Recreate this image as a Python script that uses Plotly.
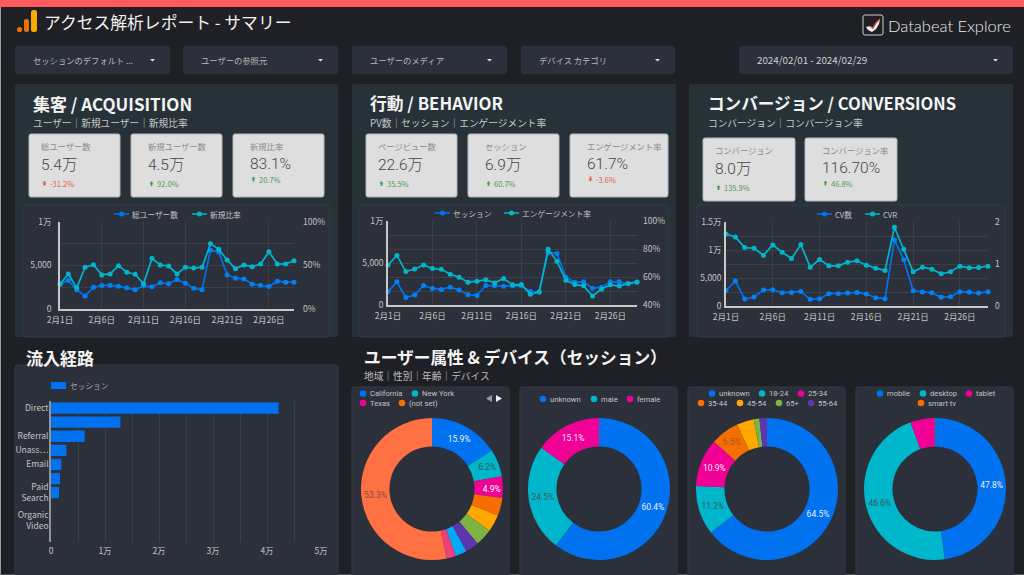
import plotly.graph_objects as go

W, H = 1024, 575
JP = "Noto Sans CJK JP"
NUM = "Roboto, Noto Sans CJK JP"

BG = "#1f2025"
PANEL = "#263238"
CARD = "#2c303a"
KPI = "#dedede"
GRID = "#3a3f49"
AXIS = "#c8c8c8"
TICK = "#c4c4c4"
BLUE = "#0072f0"
TEAL = "#00b6cb"

# daily series
days = [f"2月{d}日" for d in range(1, 30)]
day_ticks = ["2月1日", "2月6日", "2月11日", "2月16日", "2月21日", "2月26日"]

total_users = [2890, 3270, 2205, 1483, 2510, 2700, 2738, 2624, 2433, 2205, 2662, 2548, 3004, 2890, 3384,
               2966, 2395, 2205, 6768, 6540, 3916, 3536, 3460, 2852, 2738, 2586, 3194, 3080, 3080]
new_ratio = [28.5, 40.3, 24.3, 47.9, 51.0, 39.2, 40.3, 49.8, 42.2, 39.9, 28.9, 58.2, 50.6, 49.4, 40.3,
             47.9, 47.1, 47.9, 74.9, 68.8, 56.3, 46.4, 50.6, 48.7, 51.7, 65.8, 51.7, 51.7, 55.5]

sessions = [1614, 2756, 906, 1181, 2323, 1969, 1850, 2126, 1772, 1220, 1142, 2323, 2283, 2244, 2283,
            2283, 1614, 1535, 6260, 6142, 3307, 2717, 2756, 2008, 2087, 2756, 2756, 2520, 2717]
engagement = [68.6, 75.4, 63.9, 65.7, 68.6, 66.0, 65.5, 62.0, 59.8, 56.3, 57.0, 58.0, 55.8, 58.9, 54.4,
              54.6, 47.6, 49.2, 79.9, 71.2, 57.7, 54.6, 53.7, 46.4, 51.3, 54.4, 53.5, 55.4, 56.5]

cv_count = [2787, 4447, 1245, 1601, 2846, 2905, 2372, 2431, 2609, 1186, 1304, 2194, 2194, 2312, 2431,
            2134, 1482, 1304, 11798, 8241, 2727, 2490, 2372, 1542, 1660, 2549, 2490, 2312, 2549]
cvr = [1.715, 1.644, 1.391, 1.375, 1.209, 1.455, 1.281, 1.130, 1.462, 0.925, 1.107, 0.957, 0.957, 1.043, 1.075,
       0.972, 0.901, 0.846, 1.874, 1.352, 0.814, 0.925, 0.877, 0.767, 0.814, 0.949, 0.909, 0.917, 0.949]

# channels
channel_labels = ["Direct", "", "Referral", "Unass⋯", "Email", "", "Paid<br>Search", "", "Organic<br>Video", ""]
channel_sessions = [42150, 12855, 6242, 2843, 1916, 1669, 1483, 0, 0, 0]

# donuts
donut_colors = ["#0072f0", "#00b6cb", "#f10096", "#f66d00", "#ffa800", "#7cb342", "#5e35b1", "#03a9f4", "#ec407a", "#ff7043"]
region_values = [15.9, 6.2, 4.9, 4.1, 3.9, 3.9, 3.1, 2.6, 2.1, 53.3]
region_text = ["15.9%", "6.2%", "4.9%", "", "", "", "", "", "", "53.3%"]
region_legend = ["California", "New York", "Texas", "(not set)"]
gender_values = [60.4, 24.5, 15.1]
gender_text = ["60.4%", "24.5%", "15.1%"]
gender_legend = ["unknown", "male", "female"]
age_values = [64.5, 11.2, 10.9, 6.5, 3.9, 1.3, 1.7]
age_text = ["64.5%", "11.2%", "10.9%", "6.5%", "", "", ""]
age_legend = ["unknown", "18-24", "25-34", "35-44", "45-54", "65+", "55-64"]
device_values = [47.8, 46.6, 5.5, 0.1]
device_text = ["47.8%", "46.6%", "", ""]
device_legend = ["mobile", "desktop", "tablet", "smart tv"]

shapes = []
annotations = []
traces = []
layout_axes = {}


def px(x):
    return x / W


def py(y):
    return 1 - y / H


def box(x0, y0, x1, y1, fill, r=2, line=None):
    # rounded rectangle given in screen pixels
    xa, xb, ya, yb = px(x0), px(x1), py(y0), py(y1)
    rx, ry = r / W, r / H
    path = (f"M {xa + rx} {ya} L {xb - rx} {ya} Q {xb} {ya} {xb} {ya - ry} L {xb} {yb + ry} "
            f"Q {xb} {yb} {xb - rx} {yb} L {xa + rx} {yb} Q {xa} {yb} {xa} {yb + ry} "
            f"L {xa} {ya - ry} Q {xa} {ya} {xa + rx} {ya} Z")
    shapes.append(dict(type="path", xref="paper", yref="paper", path=path, fillcolor=fill,
                       line=dict(width=1 if line else 0, color=line or fill), layer="below"))


def poly(points, fill, layer="below", line=None, width=0):
    path = "M " + " L ".join(f"{px(x)} {py(y)}" for x, y in points) + (" Z" if fill else "")
    shapes.append(dict(type="path", xref="paper", yref="paper", path=path, fillcolor=fill or "rgba(0,0,0,0)",
                       line=dict(width=width, color=line or "rgba(0,0,0,0)"), layer=layer))


def dot(cx, cy, r, color):
    shapes.append(dict(type="circle", xref="paper", yref="paper", x0=px(cx - r), x1=px(cx + r),
                       y0=py(cy - r), y1=py(cy + r), fillcolor=color, line=dict(width=0), layer="above"))


def label(x, y, text, size, color, bold=False, font=JP, weight=None):
    # annotations carry about 2px of padding on the left
    if bold:
        text = f"<b>{text}</b>"
    f = dict(family=font, size=size, color=color)
    if weight:
        f["weight"] = weight
    annotations.append(dict(x=px(x - 2), y=py(y), xref="paper", yref="paper", text=text, showarrow=False,
                            xanchor="left", yanchor="middle", align="left", font=f))


def line_legend(x, y, text, color):
    shapes.append(dict(type="line", xref="paper", yref="paper", x0=px(x), x1=px(x + 15), y0=py(y), y1=py(y),
                       line=dict(color=color, width=1.5), layer="above"))
    dot(x + 7.5, y, 2.5, color)
    label(x + 18, y, text, 7.7, TICK)


def filter_box(x0, x1, text, color="#b8b8b8", size=8.3):
    box(x0, 46, x1, 74, CARD)
    label(x0 + 18, 60, text, size, color)
    poly([(x1 - 20, 59), (x1 - 15, 59), (x1 - 17.5, 61.5)], "#e0e0e0")


def kpi(x0, x1, y0, y1, title, value, delta, up, dx=12, compact=False):
    box(x0, y0, x1, y1, KPI, r=2, line="#b4b4b4")
    label(x0 + dx, y0 + 12, title, 8.3, "#8c8c8c")
    label(x0 + dx, y0 + (29.5 if compact else 31), value, 15.5, "#43464b", font=NUM, weight=300)
    color = "#4f9a55" if up else "#e5574f"
    yd = y0 + (45 if compact else 49.5)
    ax = x0 + dx + 3.5
    tip, base = (yd - 2.5, yd) if up else (yd + 2.5, yd)
    stem = yd + 2.5 if up else yd - 2.5
    poly([(ax, tip), (ax + 2, base), (ax + 0.9, base), (ax + 0.9, stem), (ax - 0.9, stem), (ax - 0.9, base),
          (ax - 2, base)], color)
    label(x0 + dx + 9, yd, delta, 7.5, color)


def trend(n, dom, left, right, left_name, right_name, left_range, right_range,
          left_vals, left_text, left_grid, right_vals, right_text, right_grid, off_l, off_r):
    # one dual axis line chart, dom is (x0, y0, x1, y1) in screen pixels
    x0, y0, x1, y1 = dom
    xid, yl, yr = f"x{n}", f"y{n * 2}", f"y{n * 2 + 1}"
    traces.append(go.Scatter(x=days, y=left, name=left_name, xaxis=xid, yaxis=yl, mode="lines+markers",
                             cliponaxis=False, line=dict(color=BLUE, width=1.7),
                             marker=dict(size=5, color="#0082f5")))
    traces.append(go.Scatter(x=days, y=right, name=right_name, xaxis=xid, yaxis=yr, mode="lines+markers",
                             cliponaxis=False, line=dict(color=TEAL, width=1.7),
                             marker=dict(size=5, color=TEAL)))
    layout_axes[f"xaxis{n}"] = dict(domain=[px(x0), px(x1)], anchor=yl, range=[0, 28], type="category",
                                    categoryarray=days, tickmode="array", tickvals=day_ticks, ticktext=day_ticks,
                                    showgrid=True, gridcolor=GRID, gridwidth=1, showline=True, linecolor=AXIS,
                                    linewidth=1.5, ticks="", ticklabelstandoff=2,
                                    tickfont=dict(family=JP, size=8.5, color=TICK))
    layout_axes[f"yaxis{n * 2}"] = dict(domain=[py(y1), py(y0)], anchor=xid, range=left_range, tickmode="array",
                                        tickvals=left_vals, ticktext=left_text, showgrid=left_grid, gridcolor=GRID,
                                        zeroline=False, showline=True, linecolor=AXIS, linewidth=1.5, ticks="",
                                        ticklabelstandoff=off_l, tickfont=dict(family=JP, size=8.5, color=TICK))
    layout_axes[f"yaxis{n * 2 + 1}"] = dict(domain=[py(y1), py(y0)], anchor=xid, overlaying=yl, side="right",
                                            range=right_range, tickmode="array", tickvals=right_vals,
                                            ticktext=right_text, showgrid=right_grid, gridcolor=GRID, zeroline=False,
                                            showline=False, ticks="", ticklabelstandoff=off_r,
                                            tickfont=dict(family=JP, size=8.5, color=TICK))


def donut(cx, values, text, text_colors):
    traces.append(go.Pie(values=values, text=text, textinfo="text", hole=0.6, sort=False, direction="clockwise",
                         rotation=0, marker=dict(colors=donut_colors[:len(values)], line=dict(width=0)),
                         textposition="inside", insidetextorientation="horizontal",
                         textfont=dict(family=NUM, size=8.5, color=text_colors),
                         domain=dict(x=[px(cx - 71), px(cx + 71)], y=[py(560), py(418)]),
                         showlegend=False))


def dot_legend(items, y, colors):
    # items are (x, text) pairs
    for (x, text), color in zip(items, colors):
        dot(x, y, 3.3, color)
        label(x + 7, y, text, 7.6, TICK, font="Roboto")


# page furniture
box(0, 0, 1024, 7, "#ff5a5f", r=0)
box(0, 7, 1, 575, "#9c9c9c", r=0)
box(0, 574, 1024, 575, "#55575c", r=0)

# logo
dot(19.5, 29.5, 2.6, "#e8710a")
box(24, 19, 29, 32, "#e8710a", r=2)
box(31, 10, 37, 32, "#f9ab00", r=2.5)
label(44, 22, "アクセス解析レポート - サマリー", 16.8, "#f2f2f2")

box(863, 15, 883, 35, BG, r=2, line="#cfcfcf")
poly([(866, 27), (870, 26), (873, 29), (876, 24), (880, 19), (879, 24), (876, 29), (872, 32), (868, 30)],
     "#f4f4f4", layer="above")
poly([(869, 26), (873, 28), (876, 23), (880, 19)], None, layer="above", line="#f0565a", width=1.3)
label(888, 26, "Databeat Explore", 16.5, "#e8e8e8", font="Lato", weight=300)

# filters
filter_box(15, 170, "セッションのデフォルト ...")
filter_box(183, 338, "ユーザーの参照元")
filter_box(352, 507, "ユーザーのメディア")
filter_box(521, 675, "デバイス カテゴリ")
filter_box(739, 1013, "2024/02/01 - 2024/02/29", color="#d0d0d0", size=9.8)

# top panels
box(15, 84, 338, 337, PANEL)
box(352, 84, 676, 337, PANEL)
box(689, 84, 1013, 337, PANEL)
box(23, 205, 330, 337, CARD, line="#333a42")
box(359, 205, 668, 337, CARD, line="#333a42")
box(697, 205, 1005, 337, CARD, line="#333a42")

label(33, 103.5, "集客 / ACQUISITION", 17, "#f4f4f4", bold=True)
label(33, 123, "ユーザー｜新規ユーザー｜新規比率", 9.7, "#c8c8c8")
label(370, 103.5, "行動 / BEHAVIOR", 16.8, "#f4f4f4", bold=True)
label(370, 123, "PV数｜セッション｜エンゲージメント率", 9.7, "#c8c8c8")
label(708, 103.5, "コンバージョン / CONVERSIONS", 16.6, "#f4f4f4", bold=True)
label(708, 123, "コンバージョン｜コンバージョン率", 9.7, "#c8c8c8")

kpi(29, 120, 134, 197, "総ユーザー数", "5.4万", "-31.2%", False)
kpi(131, 222, 134, 197, "新規ユーザー数", "4.5万", "92.0%", True, dx=17)
kpi(233, 324, 134, 197, "新規比率", "83.1%", "20.7%", True, dx=17, compact=True)
kpi(366, 457, 134, 197, "ページビュー数", "22.6万", "35.5%", True)
kpi(468, 559, 134, 197, "セッション", "6.9万", "60.7%", True, dx=17)
kpi(570, 668, 134, 197, "エンゲージメント率", "61.7%", "-3.6%", False, dx=17, compact=True)
kpi(703, 795, 138, 201, "コンバージョン", "8.0万", "135.9%", True)
kpi(805, 897, 138, 201, "コンバージョン率", "116.70%", "46.8%", True, dx=17, compact=True)

trend(1, (60, 222, 294, 309), total_users, new_ratio, "総ユーザー数", "新規比率", [0, 10000], [0, 100],
      [0, 2500, 5000, 7500, 10000], ["0", "", "5,000", "", "1万"], True,
      [0, 50, 100], ["0%", "50%", "100%"], False, 5, 8)
trend(2, (388, 221, 637, 305), sessions, engagement, "セッション", "エンゲージメント率", [0, 10000], [40, 100],
      [0, 5000, 10000], ["0", "5,000", "1万"], False,
      [40, 50, 60, 70, 80, 90, 100], ["40%", "", "60%", "", "80%", "", "100%"], True, 1, 5)
trend(3, (726, 222, 988, 306), cv_count, cvr, "CV数", "CVR", [0, 15000], [0, 2],
      [0, 2500, 5000, 7500, 10000, 12500, 15000], ["0", "", "5,000", "", "1万", "", "1.5万"], True,
      [0, 1, 2], ["0", "1", "2"], False, 1, 6)

line_legend(114, 214, "総ユーザー数", BLUE)
line_legend(192, 214, "新規比率", TEAL)
line_legend(435, 213, "セッション", BLUE)
line_legend(504, 213, "エンゲージメント率", TEAL)
line_legend(817, 214, "CV数", BLUE)
line_legend(865, 214, "CVR", TEAL)

# channel bars
label(26, 357, "流入経路", 17, "#f4f4f4", bold=True)
box(15, 365, 338, 580, CARD, line="#333a42")
box(51, 382, 66, 389, BLUE, r=0)
label(70, 385.5, "セッション", 7.7, "#a8a8a8")

traces.append(go.Bar(x=channel_sessions, y=list(range(len(channel_labels))), orientation="h", name="セッション",
                     xaxis="x4", yaxis="y8", width=0.8, marker=dict(color=BLUE, line=dict(width=0)), showlegend=False))
layout_axes["xaxis4"] = dict(domain=[px(51), px(321)], anchor="y8", range=[0, 50000], tickmode="array",
                             tickvals=list(range(0, 50001, 5000)),
                             ticktext=["0", "", "1万", "", "2万", "", "3万", "", "4万", "", "5万"],
                             showgrid=True, gridcolor=GRID, zeroline=False, showline=False, ticks="",
                             ticklabelstandoff=2, tickfont=dict(family=JP, size=8.5, color=TICK))
layout_axes["yaxis8"] = dict(domain=[py(542), py(401)], anchor="x4", range=[9.5, -0.5], tickmode="array",
                             tickvals=list(range(len(channel_labels))), ticktext=channel_labels, showgrid=False,
                             zeroline=False, showline=True, linecolor="#8f939a", linewidth=1.5, ticks="",
                             ticklabelstandoff=-1, tickfont=dict(family=JP, size=8.5, color=TICK))

# donut section
label(364, 357, "ユーザー属性 & デバイス（セッション）", 16.7, "#f4f4f4", bold=True)
label(364, 376, "地域｜性別｜年齢｜デバイス", 9.7, "#bdbdbd")
box(352, 387, 509, 580, CARD, line="#333a42")
box(520, 387, 677, 580, CARD, line="#333a42")
box(688, 387, 845, 580, CARD, line="#333a42")
box(856, 387, 1013, 580, CARD, line="#333a42")

light = "#e8f0ff"
dark = "#3f5560"
donut(432, region_values, region_text, [light, dark, "#ffffff", light, light, light, light, light, light, "#7a5145"])
donut(599, gender_values, gender_text, [light, dark, "#ffe6f4"])
donut(767, age_values, age_text, [light, dark, "#ffe6f4", "#9a5a20", light, light, light])
donut(935, device_values, device_text, [light, dark, light, light])

dot_legend([(363, region_legend[0]), (415, region_legend[1])], 393.5, donut_colors[:2])
dot_legend([(363, region_legend[2]), (402, region_legend[3])], 403, donut_colors[2:4])
poly([(486, 398.5), (492, 395), (492, 402)], "#9a9a9a", layer="above")
poly([(496, 395), (502, 398.5), (496, 402)], "#eeeeee", layer="above")

dot_legend([(543, gender_legend[0]), (594, gender_legend[1]), (630, gender_legend[2])], 399, donut_colors[:3])

dot_legend([(712, age_legend[0]), (762, age_legend[1]), (801, age_legend[2])], 393.5, donut_colors[:3])
dot_legend([(701, age_legend[3]), (740, age_legend[4]), (779, age_legend[5]), (811, age_legend[6])], 403,
           donut_colors[3:7])

dot_legend([(880, device_legend[0]), (923, device_legend[1]), (969, device_legend[2])], 393.5, donut_colors[:3])
dot_legend([(921, device_legend[3])], 403, [donut_colors[3]])

fig = go.Figure(data=traces)
fig.update_layout(
    width=W, height=H, autosize=False,
    margin=dict(l=0, r=0, t=0, b=0, pad=0, autoexpand=False),
    paper_bgcolor=BG, plot_bgcolor="rgba(0,0,0,0)",
    showlegend=False,
    shapes=shapes,
    annotations=annotations,
    **layout_axes,
)
# the page margin would otherwise push the figure out of the window
fig.write_html("out.html", config={"displayModeBar": False},
               post_script="document.body.style.margin='0';document.body.style.overflow='hidden';"
                           f"document.body.style.background='{BG}';")
